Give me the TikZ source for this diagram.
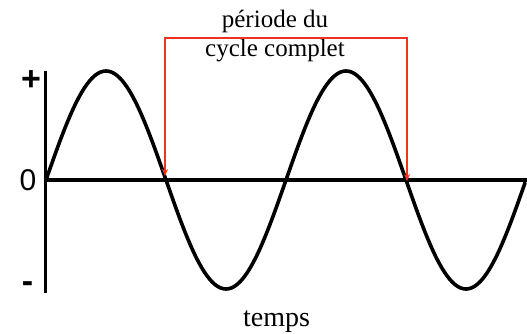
\documentclass[tikz,border=0pt]{standalone}
\usepackage{fontspec}
\setmainfont{Liberation Serif}
\newfontfamily\arialfont{Liberation Sans}
\usetikzlibrary{arrows.meta}
\definecolor{bracketred}{RGB}{238,52,30}
\tikzset{
  axisline/.style={line width=3.6pt},
  waveline/.style={line width=3.6pt, line cap=round, line join=round},
  periodline/.style={color=bracketred, line width=1.2pt, {Stealth[length=7pt,width=6pt]}-{Stealth[length=7pt,width=6pt]}},
  toplabel/.style={font=\fontsize{25}{30}\selectfont, inner sep=0pt, anchor=base},
  signlabel/.style={font=\arialfont\bfseries\fontsize{34}{40}\selectfont, inner sep=0pt},
}
\begin{document}
\begin{tikzpicture}[x=1pt,y=-1pt]
\useasboundingbox (0,0) rectangle (527,334);
% axes
\coordinate (vtop) at (45.5,71);
\coordinate (vbot) at (45.5,293);
\coordinate (hleft) at (45.5,180);
\coordinate (hright) at (527,180);
\draw[axisline] (vtop) -- (vbot);
\draw[axisline] (hleft) -- (hright);
% sine wave
\draw[waveline] plot[domain=46:525, samples=241, smooth] (\x, {180 - 109*sin((\x-46)*1.5)});
% labels
\node[signlabel] (plus) at (31,81) {+};
\node[signlabel, font=\arialfont\fontsize{30}{36}\selectfont] (zero) at (28,180) {0};
\node[signlabel] (minus) at (27.5,287) {-};
\node[toplabel, font=\fontsize{28}{32}\selectfont] (temps) at (276.5,326) {temps};
\node[toplabel] (periode) at (275,28) {période du};
\node[toplabel] (cycle) at (275,57) {cycle complet};
% period bracket
\coordinate (z1) at (165,176);
\coordinate (z2) at (407,181);
\draw[periodline] (z1) -- (165,38) -- (407,38) -- (z2);
\end{tikzpicture}
\end{document}
